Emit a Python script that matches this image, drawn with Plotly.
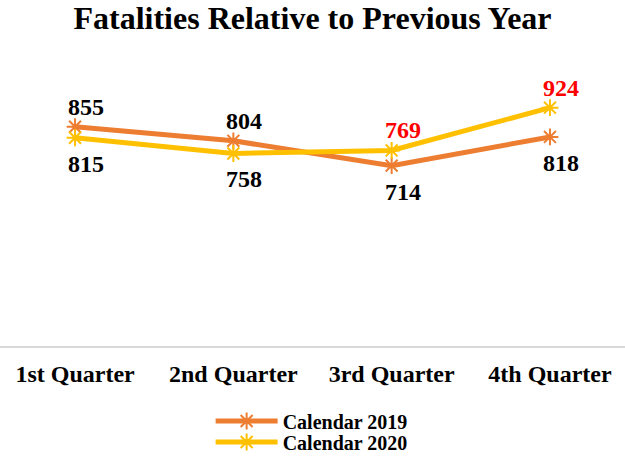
import plotly.graph_objects as go

categories = ["1st Quarter", "2nd Quarter", "3rd Quarter", "4th Quarter"]
series_names = ["Calendar 2019", "Calendar 2020"]
values_2019 = [855, 804, 714, 818]
values_2020 = [815, 758, 769, 924]

label_side_2019 = ["above", "above", "below", "below"]
label_side_2020 = ["below", "below", "above", "above"]

FONT = "Liberation Serif, Times New Roman, serif"
colors = ["#ED7D31", "#FFC000"]
legend_ids = ["legend", "legend2"]

x = list(range(len(categories)))
fig = go.Figure()
for name, vals, col, lg in zip(series_names, [values_2019, values_2020], colors, legend_ids):
    fig.add_trace(go.Scatter(
        x=x, y=vals, name=name, mode="lines+markers",
        line=dict(color=col, width=5),
        marker=dict(symbol="asterisk-open", size=14, color=col,
                    line=dict(color=col, width=2)),
        hoverinfo="skip", legend=lg,
    ))

annotations = []
for vals, sides, is2020 in [(values_2019, label_side_2019, False),
                            (values_2020, label_side_2020, True)]:
    for i, v in enumerate(vals):
        red = is2020 and values_2020[i] > values_2019[i]
        annotations.append(dict(
            x=x[i], y=v, xref="x", yref="y", text=str(v), showarrow=False,
            xanchor="center", yanchor="middle",
            xshift=11, yshift=20 if sides[i] == "above" else -26,
            font=dict(family=FONT, size=24, color="#FF0000" if red else "#000000",
                      weight="bold"),
        ))

legend_font = dict(family=FONT, size=20, color="#000000", weight="bold")
fig.update_layout(
    width=625, height=459,
    margin=dict(l=0, r=0, t=60, b=113, autoexpand=False),
    paper_bgcolor="white", plot_bgcolor="white",
    title=dict(text="Fatalities Relative to Previous Year", x=0.5, xanchor="center",
               xref="paper", y=0.961, yanchor="middle",
               font=dict(family=FONT, size=32, color="#000000", weight="bold")),
    xaxis=dict(tickmode="array", tickvals=x, ticktext=categories,
               range=[-0.474, 3.474], showgrid=False, zeroline=False,
               showline=True, linecolor="#D9D9D9", linewidth=2,
               ticks="", ticklabelstandoff=5, automargin=False,
               tickfont=dict(family=FONT, size=24, color="#000000", weight="bold"),
               fixedrange=True),
    yaxis=dict(range=[60, 1097], visible=False, fixedrange=True, automargin=False),
    legend=dict(xref="container", yref="container", x=0.337, xanchor="left",
                y=0.0828, yanchor="middle", font=legend_font, itemwidth=62,
                bgcolor="rgba(0,0,0,0)"),
    legend2=dict(xref="container", yref="container", x=0.337, xanchor="left",
                 y=0.037, yanchor="middle", font=legend_font, itemwidth=62,
                 bgcolor="rgba(0,0,0,0)"),
    annotations=annotations,
    showlegend=True,
)

fig.write_html("out.html", config={"displayModeBar": False},
               post_script="document.body.style.margin='0';document.body.style.overflow='hidden';")
